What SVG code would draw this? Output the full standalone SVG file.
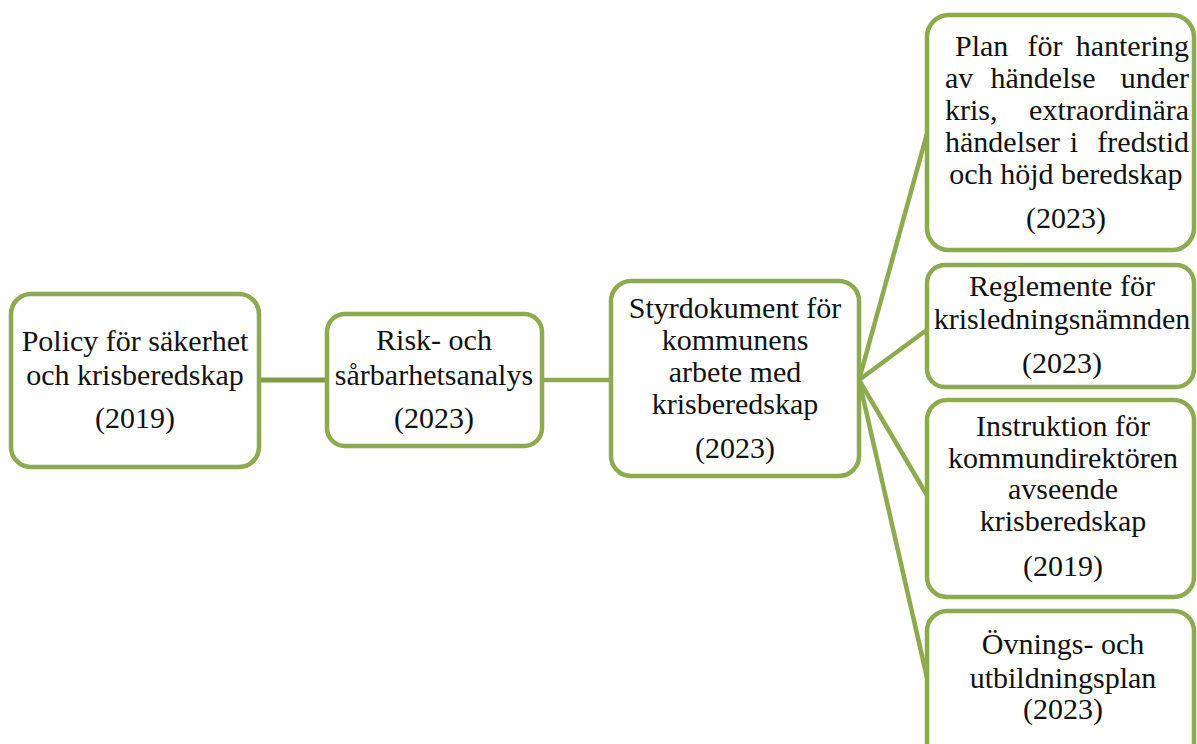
<svg xmlns="http://www.w3.org/2000/svg" width="1197" height="744" viewBox="0 0 1197 744">
<style>
.box{fill:#fff;stroke:#8EAA4F;stroke-width:4.5}
.c{stroke:#8EAA4F;stroke-width:4.5;fill:none}
text{font-family:"Liberation Serif","DejaVu Serif",serif;font-size:30px;fill:#111}
.m{text-anchor:middle}
.e{text-anchor:end}
</style>
<rect width="1197" height="744" fill="#fff"/>
<g id="connectors">
<line x1="257" y1="380" x2="329" y2="380" stroke="#7F9B45" stroke-width="5"/>
<line class="c" x1="540" y1="380" x2="613" y2="380"/>
<line class="c" x1="859" y1="380" x2="928" y2="130"/>
<line class="c" x1="859" y1="380" x2="928" y2="329"/>
<line class="c" x1="859" y1="380" x2="928" y2="497"/>
<line class="c" x1="859" y1="380" x2="928" y2="682"/>
</g>
<g id="n1">
<rect class="box" x="11" y="294" width="248" height="173" rx="20"/>
<text class="m" x="135" y="351">Policy för säkerhet</text>
<text class="m" x="135" y="385">och krisberedskap</text>
<text class="m" x="135" y="428">(2019)</text>
</g>
<g id="n2">
<rect class="box" x="327" y="314" width="215" height="132" rx="18"/>
<text class="m" x="434" y="350">Risk- och</text>
<text class="m" x="434" y="385">sårbarhetsanalys</text>
<text class="m" x="434" y="428">(2023)</text>
</g>
<g id="n3">
<rect class="box" x="611" y="281" width="248" height="195" rx="20"/>
<text class="m" x="735" y="318">Styrdokument för</text>
<text class="m" x="735" y="350">kommunens</text>
<text class="m" x="735" y="382">arbete med</text>
<text class="m" x="735" y="414">krisberedskap</text>
<text class="m" x="735" y="458">(2023)</text>
</g>
<g id="n4">
<rect class="box" x="927" y="15" width="267" height="235" rx="22"/>
<text x="955" y="56">Plan</text>
<text class="m" x="1045" y="56">för</text>
<text class="e" x="1189" y="56">hantering</text>
<text x="945" y="88">av</text>
<text class="m" x="1043" y="88">händelse</text>
<text class="e" x="1189" y="88">under</text>
<text x="945" y="120">kris,</text>
<text class="e" x="1189" y="120">extraordinära</text>
<text x="945" y="152">händelser</text>
<text class="m" x="1074" y="152">i</text>
<text class="e" x="1189" y="152">fredstid</text>
<text class="m" x="1066" y="184">och höjd beredskap</text>
<text class="m" x="1066" y="228">(2023)</text>
</g>
<g id="n5">
<rect class="box" x="927" y="265" width="267" height="122" rx="18"/>
<text class="m" x="1062" y="296">Reglemente för</text>
<text class="m" x="1062" y="329">krisledningsnämnden</text>
<text class="m" x="1062" y="373">(2023)</text>
</g>
<g id="n6">
<rect class="box" x="927" y="400" width="267" height="197" rx="20"/>
<text class="m" x="1063" y="436">Instruktion för</text>
<text class="m" x="1063" y="468">kommundirektören</text>
<text class="m" x="1063" y="499">avseende</text>
<text class="m" x="1063" y="531">krisberedskap</text>
<text class="m" x="1063" y="576">(2019)</text>
</g>
<g id="n7">
<rect class="box" x="927" y="611" width="267" height="160" rx="20"/>
<text class="m" x="1063" y="654">Övnings- och</text>
<text class="m" x="1063" y="688">utbildningsplan</text>
<text class="m" x="1063" y="719">(2023)</text>
</g>
</svg>
